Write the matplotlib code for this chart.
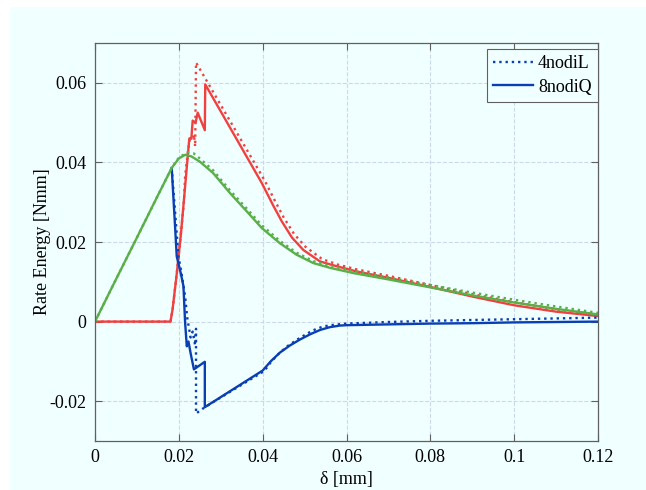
import matplotlib
matplotlib.use("Agg")
import matplotlib.pyplot as plt
from matplotlib.patches import Rectangle

# ---- data: rate energy vs displacement ----
# green: external work rate
green_L_x = [0, 0.005, 0.010, 0.015, 0.0183, 0.0200, 0.0220, 0.0235, 0.0250, 0.0282, 0.0322,
             0.0362, 0.0398, 0.0441, 0.0481, 0.0521, 0.0561, 0.0616, 0.070, 0.080, 0.090,
             0.100, 0.110, 0.120]
green_L_y = [0, 0.0106, 0.0211, 0.0317, 0.0386, 0.0412, 0.0425, 0.0423, 0.0410, 0.0380, 0.0330,
             0.0284, 0.0242, 0.0203, 0.0173, 0.0152, 0.0140, 0.0127, 0.0111, 0.0092,
             0.0073, 0.0055, 0.0038, 0.0022]
green_Q_x = [0, 0.005, 0.010, 0.015, 0.0183, 0.0200, 0.0215, 0.0230, 0.0250, 0.0282, 0.0322,
             0.0362, 0.0398, 0.0441, 0.0481, 0.0521, 0.0561, 0.0616, 0.070, 0.080, 0.090,
             0.100, 0.110, 0.120]
green_Q_y = [0, 0.0106, 0.0211, 0.0317, 0.0386, 0.0410, 0.0419, 0.0415, 0.0402, 0.0373, 0.0323,
             0.0277, 0.0235, 0.0197, 0.0168, 0.0147, 0.0135, 0.0122, 0.0106, 0.0086,
             0.0066, 0.0048, 0.0032, 0.0018]

# red: dissipated energy rate
red_L_x = [0, 0.0180, 0.0185, 0.0195, 0.0205, 0.0212, 0.0215, 0.0222, 0.0227, 0.0232, 0.0236,
           0.0239, 0.0241, 0.0404, 0.0430, 0.0450, 0.0475, 0.0502, 0.0542, 0.0580, 0.0625, 0.070,
           0.080, 0.090, 0.100, 0.110, 0.120]
red_L_y = [0, 0, 0.003, 0.012, 0.022, 0.030, 0.0365, 0.0430, 0.0465, 0.0455, 0.0470,
           0.0440, 0.0651, 0.0356, 0.0302, 0.0262, 0.0220, 0.0188, 0.0157, 0.0143, 0.0131, 0.0115,
           0.0092, 0.0069, 0.0049, 0.0031, 0.0017]
red_Q_x = [0, 0.0180, 0.0185, 0.0195, 0.0205, 0.0210, 0.0215, 0.0220, 0.0225, 0.0230, 0.0233,
           0.0240, 0.0245, 0.0262, 0.0263, 0.0398, 0.0425, 0.0445, 0.0470, 0.0497, 0.0537, 0.0577,
           0.0624, 0.070, 0.080, 0.090, 0.100, 0.110, 0.120]
red_Q_y = [0, 0, 0.003, 0.012, 0.022, 0.028, 0.034, 0.040, 0.046, 0.0462, 0.0505,
           0.050, 0.0525, 0.0481, 0.0596, 0.0348, 0.0292, 0.0253, 0.0211, 0.0180, 0.0151, 0.0139,
           0.0126, 0.0110, 0.0087, 0.0063, 0.0041, 0.0025, 0.0014]

# blue: elastic energy rate
blue_L_x = [0.0183, 0.0190, 0.0199, 0.0205, 0.0215, 0.0220, 0.0228, 0.0233, 0.0239, 0.0241,
            0.0241, 0.0262, 0.0404, 0.0420, 0.0440, 0.0460, 0.0490, 0.0520, 0.0545, 0.0570,
            0.060, 0.070, 0.080, 0.090, 0.100, 0.110, 0.120]
blue_L_y = [0.0386, 0.029, 0.0164, 0.0130, 0.0064, 0.0010, -0.0040, -0.0025, -0.0060, -0.0018,
            -0.0231, -0.0215, -0.0124, -0.0101, -0.0079, -0.0061, -0.0040, -0.0022, -0.0012, -0.0008,
            -0.0005, -0.0001, 0.0002, 0.0004, 0.0006, 0.0008, 0.0010]
blue_Q_x = [0.0183, 0.0191, 0.0195, 0.0205, 0.0211, 0.0215, 0.0219, 0.0223, 0.0228, 0.0236,
            0.0262, 0.0262, 0.0400, 0.0420, 0.0441, 0.0465, 0.0489, 0.0515, 0.0537, 0.0560,
            0.0584, 0.060, 0.070, 0.080, 0.090, 0.100, 0.110, 0.120]
blue_Q_y = [0.0386, 0.0239, 0.0164, 0.0120, 0.0089, -0.0003, -0.0062, -0.0050, -0.0079, -0.0120,
            -0.0101, -0.0215, -0.0123, -0.0099, -0.0078, -0.0060, -0.0045, -0.0031, -0.0021, -0.0014,
            -0.0010, -0.0009, -0.0007, -0.0005, -0.0004, -0.0002, -0.0001, 0.0000]

x_ticks = [0, 0.02, 0.04, 0.06, 0.08, 0.1, 0.12]
x_ticklabels = ["0", "0.02", "0.04", "0.06", "0.08", "0.1", "0.12"]
y_ticks = [-0.02, 0, 0.02, 0.04, 0.06]
y_ticklabels = ["-0.02", "0", "0.02", "0.04", "0.06"]

# ---- styling ----
BG = "#F0FFFF"
RED = "#F04040"
GREEN = "#5AAF48"
BLUE = "#0A3FB4"
GRID = "#CCD9EA"
FS = 13
plt.rcParams["font.family"] = ["Liberation Serif", "DejaVu Serif"]

fig = plt.figure(figsize=(6.46, 4.90), dpi=100, facecolor="white")
fig.patches.append(Rectangle((10 / 646, 0), 1, 1 - 7 / 490, transform=fig.transFigure,
                             facecolor=BG, edgecolor="none", zorder=-10))
ax = fig.add_axes([95 / 646, 49 / 490, 503 / 646, 398 / 490])
ax.set_facecolor(BG)

lw = 1.7
ax.plot(red_L_x, red_L_y, color=RED, lw=lw, ls=":")
ax.plot(red_Q_x, red_Q_y, color=RED, lw=lw, ls="-")
ax.plot(blue_L_x, blue_L_y, color=BLUE, lw=lw, ls=":", label="4nodiL")
ax.plot(blue_Q_x, blue_Q_y, color=BLUE, lw=lw, ls="-", label="8nodiQ")
ax.plot(green_L_x, green_L_y, color=GREEN, lw=lw, ls=":")
ax.plot(green_Q_x, green_Q_y, color=GREEN, lw=lw, ls="-")

ax.set_xlim(0, 0.12)
ax.set_ylim(-0.03, 0.07)
ax.set_xticks(x_ticks)
ax.set_xticklabels(x_ticklabels)
ax.set_yticks(y_ticks)
ax.set_yticklabels(y_ticklabels)
ax.tick_params(direction="in", top=True, right=True, length=5, width=0.8,
               color="#606060", labelsize=FS, pad=6)
ax.grid(True, color=GRID, ls="--", lw=0.8)
ax.set_axisbelow(True)
for s in ax.spines.values():
    s.set_color("#606060")
    s.set_linewidth(0.9)

ax.set_xlabel("δ [mm]", fontsize=FS, labelpad=3)
ax.set_ylabel("Rate Energy [Nmm]", fontsize=FS, labelpad=-1)

leg = ax.legend(loc="upper right", bbox_to_anchor=(1.0, 1 - 6 / 398), borderaxespad=0,
                fontsize=FS, fancybox=False, handlelength=2.2, handletextpad=0.3,
                labelspacing=0.35, borderpad=0.35)
leg.get_frame().set_edgecolor("#606060")
leg.get_frame().set_facecolor(BG)
leg.get_frame().set_alpha(1)
leg.get_frame().set_linewidth(0.8)

fig.savefig("out.png", dpi=100, facecolor=fig.get_facecolor())
